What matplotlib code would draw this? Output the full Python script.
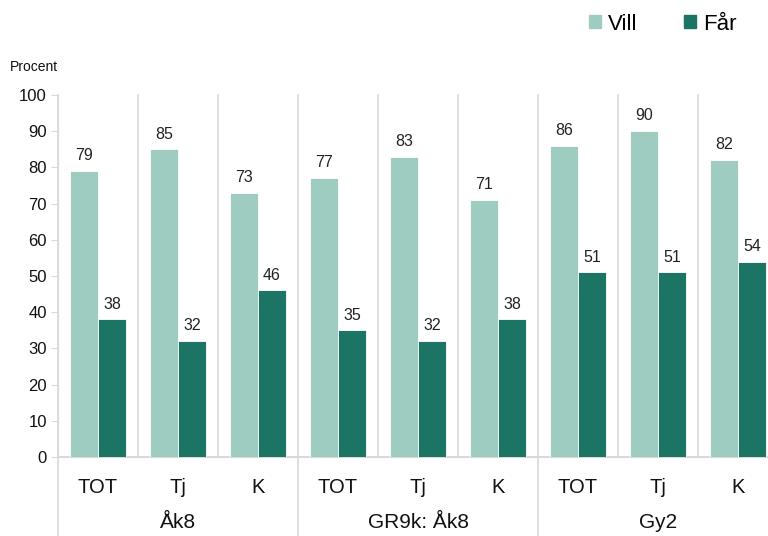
import matplotlib.pyplot as plt
from matplotlib.patches import Patch
from matplotlib.lines import Line2D

plt.rcParams['font.family'] = ['Liberation Sans', 'DejaVu Sans']

categories = ["TOT", "Tj", "K", "TOT", "Tj", "K", "TOT", "Tj", "K"]
groups = ["Åk8", "GR9k: Åk8", "Gy2"]
vill = [79, 85, 73, 77, 83, 71, 86, 90, 82]
far = [38, 32, 46, 35, 32, 38, 51, 51, 54]

VILL_COLOR = "#9ECCC1"
FAR_COLOR = "#1C7465"
GRID_COLOR = "#D9D9D9"

W, H = 768, 536
fig = plt.figure(figsize=(W / 100, H / 100), dpi=100)
ax = fig.add_axes([58 / W, 1 - 457 / H, 720 / W, 362 / H])

x = list(range(len(categories)))
bw = 0.35
b1 = ax.bar([i - bw / 2 for i in x], vill, width=bw, color=VILL_COLOR,
            edgecolor="white", linewidth=0.6, zorder=3)
b2 = ax.bar([i + bw / 2 for i in x], far, width=bw, color=FAR_COLOR,
            edgecolor="white", linewidth=0.6, zorder=3)

for bars, vals in ((b1, vill), (b2, far)):
    for rect, v in zip(bars, vals):
        ax.annotate(str(v), (rect.get_x() + rect.get_width() / 2, v),
                    xytext=(0, 11), textcoords="offset points",
                    ha="center", va="center", fontsize=11.5, color="#222222")

ax.set_xlim(-0.5, len(categories) - 0.5)
ax.set_ylim(0, 100)
ax.set_yticks(range(0, 101, 10))
ax.tick_params(axis="y", length=5, color=GRID_COLOR, labelsize=12,
               labelcolor="#111111", pad=3)
ax.set_xticks(x)
ax.set_xticklabels(categories)
ax.tick_params(axis="x", length=0, labelsize=14.5, labelcolor="#111111", pad=15)

for s in ("top", "right"):
    ax.spines[s].set_visible(False)
ax.spines["left"].set_color(GRID_COLOR)
ax.spines["bottom"].set_color(GRID_COLOR)
ax.spines["bottom"].set_linewidth(1.5)

# separators between categories
trans = ax.get_xaxis_transform()
for i in range(len(categories) + 1):
    xs = i - 0.5
    major = i % 3 == 0
    y0 = -0.22 if major else 0
    ax.add_line(Line2D([xs, xs], [y0, 1], transform=trans, color=GRID_COLOR,
                       linewidth=1.2, clip_on=False, zorder=1))

for g, name in enumerate(groups):
    ax.text(g * 3 + 1, -0.18, name, transform=trans, ha="center",
            va="center", fontsize=15, color="#111111")

fig.text(10 / W, 1 - 67 / H, "Procent", ha="left", va="center",
         fontsize=10, color="#111111")

handles = [Patch(color=VILL_COLOR, label="Vill"),
           Patch(color=FAR_COLOR, label="Får")]
fig.legend(handles=handles, ncol=2, loc="center left",
           bbox_to_anchor=(589 / W, 1 - 24 / H), frameon=False,
           fontsize=16, handlelength=0.55, handleheight=0.55,
           handletextpad=0.3, columnspacing=2.1, borderpad=0,
           borderaxespad=0)

fig.savefig("out.png", dpi=100)
